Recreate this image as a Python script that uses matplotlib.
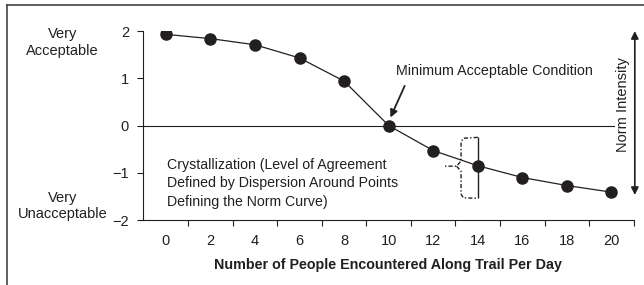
import matplotlib.pyplot as plt
from matplotlib.lines import Line2D

plt.rcParams['font.family'] = ['Liberation Sans', 'DejaVu Sans']
ink = '#231f20'

# encounters per day and mean evaluation
people = [0, 2, 4, 6, 8, 10, 12, 14, 16, 18, 20]
rating = [1.93, 1.84, 1.71, 1.43, 0.94, 0.0, -0.53, -0.85, -1.1, -1.27, -1.41]
# spread of answers around the point at 14
spread_x = 14
spread_lo, spread_hi = -1.54, -0.24
yticks = [-2, -1, 0, 1, 2]
xticks = [0, 2, 4, 6, 8, 10, 12, 14, 16, 18, 20]

fig = plt.figure(figsize=(6.44, 2.85), dpi=100)
ax = fig.add_axes([0.222, 0.228, 0.762, 0.663])

ax.plot(people, rating, color=ink, lw=0.9, marker='o', ms=8, mfc=ink, mec=ink, zorder=3)
ax.axhline(0, xmin=0, xmax=0.96, color=ink, lw=0.8)

# spread bar + brace
ax.vlines(spread_x, spread_lo, spread_hi, color=ink, lw=1.0)
bx = [14, 13.35, 13.25, 13.25, 13.05, 12.45]
by = [-0.25, -0.27, -0.35, -0.75, -0.86, -0.86]
ax.plot(bx, by, color=ink, lw=1.0, ls=(0, (3, 1.5, 1, 1.5)))
bx2 = [13.05, 13.25, 13.25, 13.35, 14]
by2 = [-0.86, -0.97, -1.45, -1.53, -1.54]
ax.plot(bx2, by2, color=ink, lw=1.0, ls=(0, (3, 1.5, 1, 1.5)))

ax.set_xlim(-1.03, 21)
ax.set_ylim(-2, 2)
ax.set_yticks(yticks)
ax.set_yticklabels(['\u22122', '\u22121', '0', '1', '2'])
ax.set_xticks(xticks)
ax.set_xticks([x + 1 for x in xticks], minor=True)
ax.tick_params(axis='x', which='major', length=0, pad=10, labelsize=10.5, colors=ink)
ax.tick_params(axis='x', which='minor', length=4, width=0.8, direction='out', color=ink)
ax.tick_params(axis='y', length=4, width=0.8, labelsize=10.5, colors=ink, pad=6)
for s in ['top', 'right']:
    ax.spines[s].set_visible(False)
for s in ['left', 'bottom']:
    ax.spines[s].set_color(ink)
    ax.spines[s].set_linewidth(0.8)

ax.set_xlabel('Number of People Encountered Along Trail Per Day', fontsize=10.3,
              fontweight='bold', color=ink, labelpad=7)

ax.text(10.35, 1.16, 'Minimum Acceptable Condition', fontsize=10.3, color=ink,
        ha='left', va='center')
ax.annotate('', xy=(10.08, 0.17), xytext=(10.72, 0.84),
            arrowprops=dict(arrowstyle='-|>', color=ink, lw=1.3, mutation_scale=11,
                            shrinkA=0, shrinkB=0))
ax.text(0.04, -1.22, 'Crystallization (Level of Agreement\nDefined by Dispersion Around Points\nDefining the Norm Curve)',
        fontsize=10.2, color=ink, ha='left', va='center', linespacing=1.4)

ax.annotate('', xy=(21.05, -1.47), xytext=(21.05, 2.0), annotation_clip=False,
            arrowprops=dict(arrowstyle='<|-|>', color=ink, lw=1.2, mutation_scale=11,
                            shrinkA=0, shrinkB=0))
ax.text(20.5, 0.45, 'Norm Intensity', rotation=90, fontsize=10.5, color=ink,
        ha='center', va='center')

fig.text(0.097, 0.851, 'Very\nAcceptable', fontsize=10.5, color=ink, ha='center', va='center',
         linespacing=1.25)
fig.text(0.097, 0.277, 'Very\nUnacceptable', fontsize=10.5, color=ink, ha='center', va='center',
         linespacing=1.25)

# frame of the original figure (left and top edges)
fig.add_artist(Line2D([0.011, 0.011], [0, 0.982], transform=fig.transFigure, color='#444444', lw=1.2))
fig.add_artist(Line2D([0.011, 1.0], [0.982, 0.982], transform=fig.transFigure, color='#444444', lw=1.2))

fig.savefig('out.png', dpi=100)
